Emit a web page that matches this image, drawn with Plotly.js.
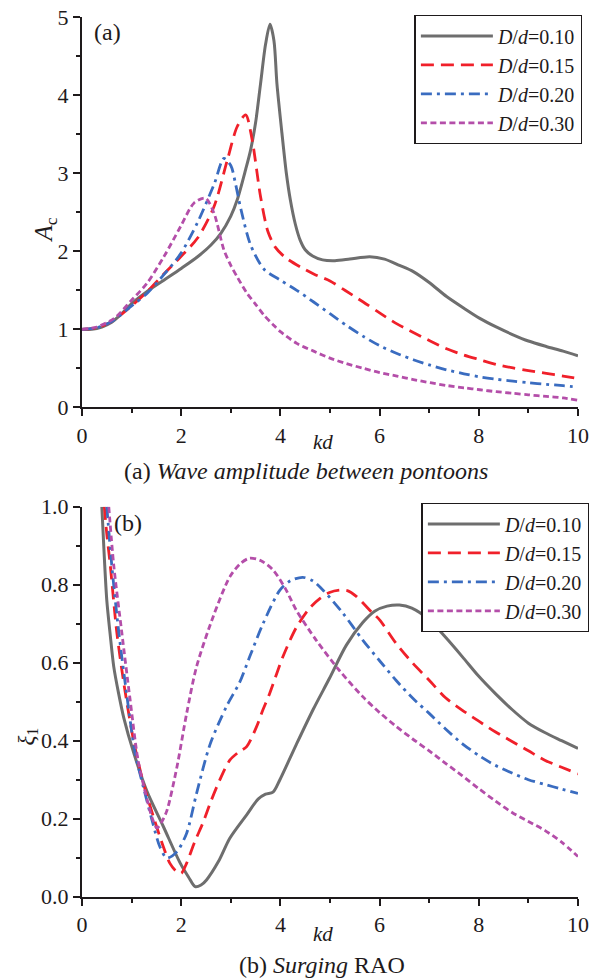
<!DOCTYPE html>
<html>
<head>
<meta charset="utf-8">
<script src="https://cdn.plot.ly/plotly-3.0.1.min.js"></script>
<style>html,body{margin:0;padding:0;background:#fff;}#chart{width:600px;height:980px;}</style>
</head>
<body>
<div id="chart"></div>
<script>
// ---------- (a) Wave amplitude between pontoons, A_c vs kd ----------
const seriesNames = ['<i>D</i>/<i>d</i>=0.10', '<i>D</i>/<i>d</i>=0.15', '<i>D</i>/<i>d</i>=0.20', '<i>D</i>/<i>d</i>=0.30'];

const a10_x = [0, 0.2, 0.4, 0.6, 0.8, 1.0, 1.3, 1.65, 2.0, 2.33, 2.6, 2.8, 3.0, 3.13, 3.3, 3.4, 3.5, 3.6, 3.7, 3.79, 3.87, 3.93, 4.03, 4.12, 4.2, 4.3, 4.4, 4.5, 4.65, 4.85, 5.1, 5.4, 5.8, 6.1, 6.4, 6.68, 7.0, 7.35, 7.7, 8.02, 8.35, 8.69, 9.0, 9.36, 9.7, 10];
const a10_y = [1.0, 1.0, 1.03, 1.09, 1.2, 1.33, 1.48, 1.63, 1.78, 1.93, 2.08, 2.23, 2.45, 2.66, 3.05, 3.30, 3.65, 4.15, 4.65, 4.91, 4.70, 4.15, 3.52, 3.0, 2.66, 2.35, 2.14, 2.02, 1.94, 1.89, 1.88, 1.90, 1.93, 1.90, 1.82, 1.74, 1.60, 1.42, 1.27, 1.14, 1.03, 0.93, 0.85, 0.78, 0.72, 0.66];

const a15_x = [0, 0.3, 0.6, 1.0, 1.31, 1.65, 1.99, 2.33, 2.66, 2.93, 3.13, 3.3, 3.43, 3.6, 3.75, 3.9, 4.1, 4.4, 4.7, 5.0, 5.3, 5.67, 6.0, 6.35, 6.68, 7.02, 7.35, 7.7, 8.02, 8.35, 8.69, 9.0, 9.36, 9.7, 10];
const a15_y = [1.0, 1.02, 1.1, 1.3, 1.48, 1.71, 1.93, 2.17, 2.57, 3.17, 3.6, 3.75, 3.43, 2.7, 2.25, 2.05, 1.92, 1.8, 1.7, 1.62, 1.5, 1.35, 1.21, 1.07, 0.96, 0.85, 0.75, 0.67, 0.61, 0.55, 0.505, 0.47, 0.435, 0.40, 0.37];

const a20_x = [0, 0.3, 0.6, 1.0, 1.31, 1.65, 1.99, 2.33, 2.67, 2.86, 3.0, 3.1, 3.2, 3.4, 3.67, 4.0, 4.33, 4.67, 5.0, 5.33, 5.67, 6.0, 6.35, 6.68, 7.02, 7.35, 7.7, 8.02, 8.35, 8.69, 9.0, 9.36, 9.7, 10];
const a20_y = [1.0, 1.02, 1.1, 1.3, 1.46, 1.7, 1.97, 2.37, 2.87, 3.19, 3.1, 2.85, 2.55, 2.08, 1.77, 1.63, 1.5, 1.35, 1.2, 1.05, 0.91, 0.79, 0.69, 0.61, 0.54, 0.48, 0.43, 0.39, 0.36, 0.335, 0.315, 0.295, 0.277, 0.26];

const a30_x = [0, 0.3, 0.65, 0.98, 1.31, 1.65, 1.99, 2.26, 2.49, 2.66, 2.86, 3.0, 3.13, 3.33, 3.5, 3.67, 3.85, 4.0, 4.33, 4.67, 5.0, 5.33, 5.67, 6.0, 6.35, 6.68, 7.02, 7.35, 7.7, 8.02, 8.35, 8.69, 9.0, 9.36, 9.7, 10];
const a30_y = [1.0, 1.03, 1.14, 1.36, 1.59, 1.93, 2.32, 2.62, 2.68, 2.49, 2.02, 1.82, 1.67, 1.46, 1.32, 1.18, 1.06, 0.97, 0.82, 0.72, 0.63, 0.56, 0.5, 0.445, 0.4, 0.355, 0.315, 0.28, 0.25, 0.225, 0.2, 0.18, 0.16, 0.14, 0.12, 0.09];

// ---------- (b) Surging RAO, xi_1 vs kd ----------
const b10_x = [0.40, 0.45, 0.5, 0.57, 0.64, 0.74, 0.84, 1.04, 1.31, 1.64, 1.98, 2.15, 2.28, 2.4, 2.51, 2.75, 2.98, 3.32, 3.55, 3.7, 3.85, 3.99, 4.32, 4.66, 4.99, 5.33, 5.66, 5.9, 6.15, 6.4, 6.65, 7.0, 7.33, 7.67, 8.0, 8.34, 8.67, 9.0, 9.33, 9.67, 10];
const b10_y = [1.0, 0.87, 0.76, 0.67, 0.59, 0.52, 0.46, 0.37, 0.27, 0.18, 0.086, 0.05, 0.026, 0.03, 0.043, 0.09, 0.15, 0.21, 0.25, 0.263, 0.268, 0.3, 0.39, 0.48, 0.56, 0.645, 0.703, 0.732, 0.745, 0.748, 0.74, 0.71, 0.665, 0.615, 0.565, 0.52, 0.48, 0.445, 0.421, 0.40, 0.38];

const b15_x = [0.45, 0.5, 0.57, 0.7, 0.84, 1.04, 1.24, 1.44, 1.64, 1.77, 1.9, 2.0, 2.11, 2.27, 2.44, 2.6, 2.78, 2.98, 3.15, 3.32, 3.52, 3.65, 3.78, 4.05, 4.32, 4.59, 4.8, 4.99, 5.19, 5.35, 5.53, 5.86, 6.0, 6.33, 6.66, 7.0, 7.33, 7.67, 8.0, 8.33, 8.67, 9.0, 9.33, 9.67, 10];
const b15_y = [1.0, 0.93, 0.85, 0.68, 0.55, 0.40, 0.29, 0.205, 0.128, 0.086, 0.065, 0.06, 0.086, 0.14, 0.19, 0.245, 0.3, 0.35, 0.37, 0.385, 0.436, 0.48, 0.52, 0.615, 0.69, 0.74, 0.765, 0.78, 0.786, 0.785, 0.77, 0.727, 0.71, 0.65, 0.6, 0.555, 0.51, 0.478, 0.45, 0.423, 0.398, 0.374, 0.35, 0.332, 0.315];

const b20_x = [0.5, 0.6, 0.74, 0.9, 1.07, 1.24, 1.41, 1.57, 1.71, 1.91, 2.11, 2.31, 2.58, 2.91, 3.18, 3.38, 3.65, 3.99, 4.2, 4.45, 4.65, 4.86, 5.26, 5.66, 6.0, 6.33, 6.66, 7.0, 7.33, 7.67, 8.0, 8.33, 8.67, 9.0, 9.33, 9.67, 10];
const b20_y = [1.0, 0.85, 0.68, 0.52, 0.37, 0.28, 0.197, 0.128, 0.099, 0.115, 0.163, 0.265, 0.39, 0.487, 0.55, 0.615, 0.70, 0.786, 0.81, 0.819, 0.81, 0.786, 0.727, 0.658, 0.605, 0.555, 0.51, 0.47, 0.43, 0.392, 0.362, 0.337, 0.317, 0.30, 0.288, 0.276, 0.265];

const b30_x = [0.54, 0.64, 0.8, 0.97, 1.13, 1.31, 1.42, 1.51, 1.6, 1.71, 1.91, 2.11, 2.31, 2.65, 2.98, 3.2, 3.38, 3.6, 3.85, 4.1, 4.32, 4.72, 5.19, 5.66, 6.0, 6.33, 6.66, 7.0, 7.33, 7.67, 8.0, 8.33, 8.67, 9.0, 9.33, 9.67, 10];
const b30_y = [1.0, 0.85, 0.68, 0.505, 0.35, 0.25, 0.2, 0.176, 0.19, 0.22, 0.33, 0.47, 0.59, 0.72, 0.82, 0.855, 0.868, 0.862, 0.838, 0.79, 0.735, 0.658, 0.58, 0.513, 0.472, 0.437, 0.405, 0.374, 0.342, 0.31, 0.277, 0.246, 0.216, 0.193, 0.17, 0.14, 0.103];

const xTickVals = [0, 2, 4, 6, 8, 10];
const aTickVals = [0, 1, 2, 3, 4, 5];
const bTickVals = [0, 0.2, 0.4, 0.6, 0.8, 1.0];
const bTickText = ['0.0', '0.2', '0.4', '0.6', '0.8', '1.0'];

// ---------- styles ----------
const colors = ['#6e6e6e', '#f0202a', '#3a6cc0', '#b44ea9'];
const dashes = ['solid', '13px,7px', '11px,5px,3px,5px', '6px,3.5px'];
const widths = [3, 2.8, 2.8, 2.8];
const FONT = '"Liberation Serif", "Times New Roman", Times, serif';
const TXT = '#1e1a1b';

const W = 600, H = 980, L = 81.5, R = 21.5;
const px2x = p => (p - L) / (W - L - R);
const px2y = p => 1 - p / H;

const aX = [a10_x, a15_x, a20_x, a30_x], aY = [a10_y, a15_y, a20_y, a30_y];
const bX = [b10_x, b15_x, b20_x, b30_x], bY = [b10_y, b15_y, b20_y, b30_y];

const traces = [];
for (let i = 0; i < 4; i++) {
  traces.push({x: aX[i], y: aY[i], xaxis: 'x', yaxis: 'y', name: seriesNames[i], mode: 'lines',
    line: {color: colors[i], width: widths[i], dash: dashes[i], shape: 'spline', smoothing: 0.8},
    legend: 'legend', hoverinfo: 'skip'});
}
for (let i = 0; i < 4; i++) {
  traces.push({x: bX[i], y: bY[i], xaxis: 'x2', yaxis: 'y2', name: seriesNames[i], mode: 'lines',
    line: {color: colors[i], width: widths[i], dash: dashes[i], shape: 'spline', smoothing: 0.8},
    legend: 'legend2', hoverinfo: 'skip'});
}

const axisCommon = {
  showline: true, linecolor: TXT, linewidth: 2, mirror: false,
  ticks: 'outside', ticklen: 7, tickwidth: 2, tickcolor: TXT,
  showgrid: false, zeroline: false,
  tickfont: {family: FONT, size: 22, color: TXT},
  fixedrange: true
};

const legendCommon = {
  bgcolor: '#ffffff', bordercolor: TXT, borderwidth: 1.4,
  font: {family: FONT, size: 20, color: TXT},
  xanchor: 'right', yanchor: 'top', itemwidth: 72,
  tracegroupgap: 0, itemclick: false, itemdoubleclick: false
};

const ann = (text, x, y, size, extra) => Object.assign({
  text: text, xref: 'paper', yref: 'paper', x: px2x(x), y: px2y(y),
  xanchor: 'center', yanchor: 'middle', showarrow: false,
  font: {family: FONT, size: size, color: TXT}
}, extra || {});

const layout = {
  width: W, height: H,
  margin: {l: L, r: R, t: 0, b: 0, pad: 0},
  paper_bgcolor: '#ffffff', plot_bgcolor: '#ffffff',
  font: {family: FONT, color: TXT},
  showlegend: true,
  xaxis: Object.assign({}, axisCommon, {anchor: 'y', domain: [0, 1], range: [0, 10], tickvals: xTickVals,
    minor: {dtick: 1, ticks: 'outside', ticklen: 4, tickwidth: 2, tickcolor: TXT}}),
  yaxis: Object.assign({}, axisCommon, {anchor: 'x', domain: [px2y(407.3), px2y(17.3)], range: [0, 5], tickvals: aTickVals,
    minor: {dtick: 0.5, ticks: 'outside', ticklen: 4, tickwidth: 2, tickcolor: TXT}}),
  xaxis2: Object.assign({}, axisCommon, {anchor: 'y2', domain: [0, 1], range: [0, 10], tickvals: xTickVals,
    minor: {dtick: 1, ticks: 'outside', ticklen: 4, tickwidth: 2, tickcolor: TXT}}),
  yaxis2: Object.assign({}, axisCommon, {anchor: 'x2', domain: [px2y(896.7), px2y(506.7)], range: [0, 1], tickvals: bTickVals, ticktext: bTickText,
    minor: {dtick: 0.1, ticks: 'outside', ticklen: 4, tickwidth: 2, tickcolor: TXT}}),
  legend: Object.assign({}, legendCommon, {x: px2x(583), y: px2y(15)}),
  legend2: Object.assign({}, legendCommon, {x: px2x(590), y: px2y(503)}),
  annotations: [
    ann('(a)', 107, 32, 24),
    ann('<i>A</i><sub>c</sub>', 44, 230, 25, {textangle: -90}),
    ann('<i>kd</i>', 323, 442, 21),
    ann('(a) <i>Wave amplitude between pontoons</i>', 306, 471, 24),
    ann('(b)', 128, 523, 24),
    ann('<i>ξ</i><sub>1</sub>', 27, 737, 23, {textangle: -90}),
    ann('<i>kd</i>', 323, 934, 21),
    ann('(b) <i>Surging</i> RAO', 322, 965, 24)
  ]
};

Plotly.newPlot('chart', traces, layout, {staticPlot: true, displayModeBar: false});
</script>
</body>
</html>
